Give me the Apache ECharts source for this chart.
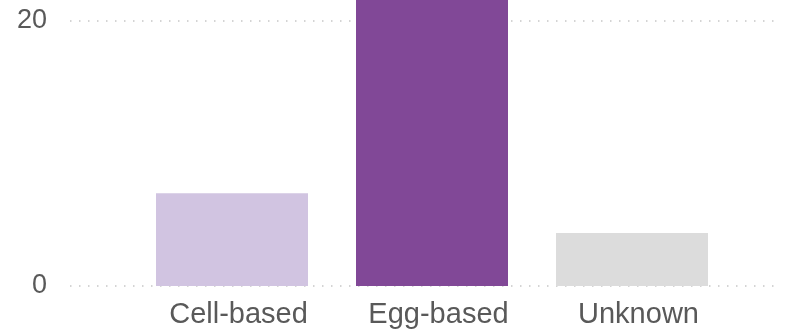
<!DOCTYPE html>
<html>
<head>
<meta charset="utf-8">
<script src="https://cdn.jsdelivr.net/npm/echarts@6/dist/echarts.min.js"></script>
<style>html,body{margin:0;padding:0;background:#fff}#c{width:789px;height:333px}</style>
</head>
<body>
<div id="c"></div>
<script>
const categories = ['Cell-based', 'Egg-based', 'Unknown'];
const values = [7, 25, 4];
const barColors = ['#d1c4e1', '#814897', '#dcdcdc'];
const yTicks = [0, 20, 40];

const chart = echarts.init(document.getElementById('c'), null, {renderer: 'canvas'});
const yCommon = {type: 'value', min: yTicks[0], max: yTicks[yTicks.length - 1], interval: yTicks[1] - yTicks[0]};
chart.setOption({
  animation: false,
  backgroundColor: '#fff',
  grid: [
    {left: 70, right: 11, top: -244, bottom: 47, outerBoundsMode: 'none', containLabel: false},
    {left: 132, right: 57, top: -244, bottom: 47, outerBoundsMode: 'none', containLabel: false}
  ],
  xAxis: [
    {gridIndex: 0, type: 'value', min: 0, max: 1, show: false},
    {gridIndex: 1, type: 'category', data: categories,
     axisLine: {show: false}, axisTick: {show: false},
     axisLabel: {color: '#595959', fontSize: 29, fontFamily: 'Liberation Sans, Arial, sans-serif', margin: 14, padding: [0, 0, 0, 13]}}
  ],
  yAxis: [
    Object.assign({gridIndex: 0,
      axisLine: {show: false}, axisTick: {show: false},
      axisLabel: {color: '#595959', fontSize: 27, fontFamily: 'Liberation Sans, Arial, sans-serif', margin: 23},
      splitLine: {show: true, lineStyle: {color: '#c6c6c6', width: 1.5, type: [1.5, 7.5]}}
    }, yCommon),
    Object.assign({gridIndex: 1, show: false, splitLine: {show: false}}, yCommon)
  ],
  series: [{
    type: 'bar',
    xAxisIndex: 1,
    yAxisIndex: 1,
    barWidth: 152,
    data: values.map((v, i) => ({value: v, itemStyle: {color: barColors[i]}}))
  }]
});
</script>
</body>
</html>
